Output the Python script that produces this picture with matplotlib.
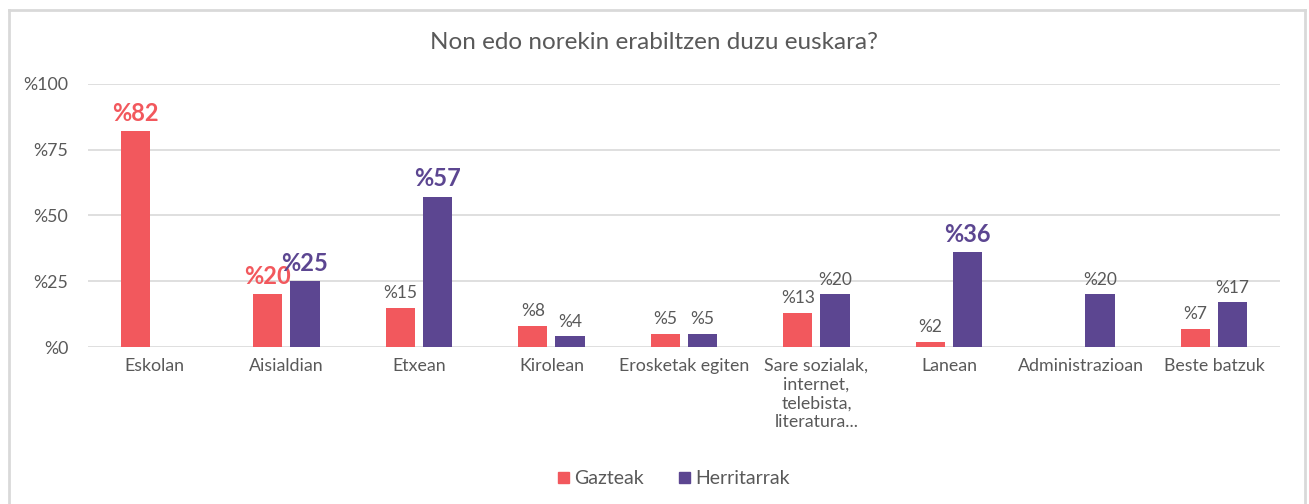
import matplotlib
matplotlib.use("Agg")
import matplotlib.pyplot as plt
from matplotlib.lines import Line2D
from matplotlib.patches import Patch
import numpy as np

plt.rcParams['font.family'] = ['Lato', 'DejaVu Sans']

categories = ['Eskolan', 'Aisialdian', 'Etxean', 'Kirolean', 'Erosketak egiten',
              'Sare sozialak,\ninternet,\ntelebista,\nliteratura...',
              'Lanean', 'Administrazioan', 'Beste batzuk']
gazteak = [82, 20, 15, 8, 5, 13, 2, None, 7]
herritarrak = [None, 25, 57, 4, 5, 20, 36, 20, 17]
# which labels are drawn big and bold
gazteak_big = [True, True, False, False, False, False, False, False, False]
herritarrak_big = [False, True, True, False, False, False, True, False, False]

red = '#F2585D'
purple = '#5C4691'
grey = '#595959'

fig = plt.figure(figsize=(13.09, 5.04), dpi=100)
ax = fig.add_axes([0.067, 0.3115, 0.911, 0.522])

x = np.arange(len(categories))
w = 0.22
gap = 0.06
off = (w + gap) / 2

for i in range(len(categories)):
    if gazteak[i] is not None:
        ax.bar(x[i] - off, gazteak[i], w, color=red, zorder=3)
        big = gazteak_big[i]
        ax.text(x[i] - off, gazteak[i] + 2.5, f'%{gazteak[i]}', ha='center', va='bottom',
                fontsize=17 if big else 12.5, fontweight='bold' if big else 'normal',
                color=red if big else grey)
    if herritarrak[i] is not None:
        ax.bar(x[i] + off, herritarrak[i], w, color=purple, zorder=3)
        big = herritarrak_big[i]
        ax.text(x[i] + off, herritarrak[i] + 2.5, f'%{herritarrak[i]}', ha='center', va='bottom',
                fontsize=17 if big else 12.5, fontweight='bold' if big else 'normal',
                color=purple if big else grey)

ax.set_xlim(-0.5, len(categories) - 0.5)
ax.set_ylim(0, 100)
ax.set_yticks([0, 25, 50, 75, 100])
ax.set_yticklabels(['%0', '%25', '%50', '%75', '%100'])
ax.set_xticks(x)
ax.set_xticklabels(categories, linespacing=1.2)
ax.tick_params(length=0, colors=grey, labelsize=12.8)
ax.tick_params(axis='y', pad=14)
ax.tick_params(axis='x', pad=8)
ax.grid(axis='y', color='#D9D9D9', lw=1.2, zorder=0)
for s in ax.spines.values():
    s.set_visible(False)

fig.text(0.5, 0.915, 'Non edo norekin erabiltzen duzu euskara?', ha='center', va='center',
         fontsize=17.5, color=grey)

handles = [Patch(color=red, label='Gazteak'), Patch(color=purple, label='Herritarrak')]
fig.legend(handles=handles, loc='center', bbox_to_anchor=(0.515, 0.05), ncol=2, frameon=False,
           fontsize=14, labelcolor=grey, handlelength=0.55, handleheight=0.55,
           handletextpad=0.3, columnspacing=1.8)

# outer frame
fig.add_artist(Line2D([0.007, 0.007], [0, 0.98], color='#D9D9D9', lw=2, transform=fig.transFigure))
fig.add_artist(Line2D([0.007, 0.997], [0.98, 0.98], color='#D9D9D9', lw=2, transform=fig.transFigure))
fig.add_artist(Line2D([0.997, 0.997], [0, 0.98], color='#D9D9D9', lw=2, transform=fig.transFigure))

fig.savefig('out.png', dpi=100)
